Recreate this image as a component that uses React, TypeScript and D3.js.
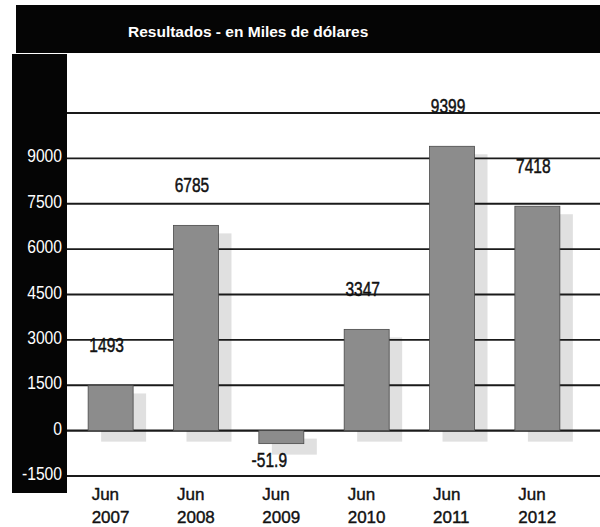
import React from 'react';
import * as d3 from 'd3';

const categories = ['2007', '2008', '2009', '2010', '2011', '2012'];
const monthLabels = ['Jun', 'Jun', 'Jun', 'Jun', 'Jun', 'Jun'];
const values = [1493, 6785, -51.9, 3347, 9399, 7418];
const valueLabels = ['1493', '6785', '-51.9', '3347', '9399', '7418'];
const gridValues = [-1500, 0, 1500, 3000, 4500, 6000, 7500, 9000, 10500];
const tickLabels = ['-1500', '0', '1500', '3000', '4500', '6000', '7500', '9000', ''];
const title = 'Resultados - en Miles de dólares';

const W = 600;
const H = 527;

export default function App() {
  const x = d3.scaleBand<string>().domain(categories).range([68, 580]).paddingInner(0.473).paddingOuter(0.236);
  const y = d3.scaleLinear().domain([-1500, 10500]).range([476, 113]);
  const y0 = y(0);
  const minBar = 13;
  const sans = "'Liberation Sans', Arial, sans-serif";

  const bars = values.map((v, i) => {
    const xb = x(categories[i]) as number;
    let top = Math.min(y(v), y0);
    let h = Math.abs(y(v) - y0);
    if (h < minBar) {
      h = minBar;
      top = v < 0 ? y0 : y0 - minBar;
    }
    return { xb, top, h, v, i };
  });

  return (
    <svg width={W} height={H} style={{ position: 'absolute', left: 0, top: 0, background: '#fff' }}>
      <rect x={0} y={0} width={W} height={H} fill="#fff" />
      {/* header */}
      <rect x={16} y={5} width={W - 16} height={48} fill="#050505" />
      <text x={128} y={37} fill="#fff" fontFamily={sans} fontWeight="bold" fontSize={15.5}>
        {title}
      </text>
      {/* axis column */}
      <rect x={12} y={54} width={55} height={439} fill="#050505" />
      {/* shadows */}
      {bars.map((b) => (
        <rect key={'s' + b.i} x={b.xb + 13} y={b.top + 8} width={x.bandwidth()} height={b.h + 3} fill="#e0e0e0" />
      ))}
      {/* gridlines */}
      {gridValues.map((g) => (
        <line key={'g' + g} x1={67} x2={W} y1={y(g)} y2={y(g)} stroke="#1a1a1a" strokeWidth={g === 0 ? 2.4 : 1.8} />
      ))}
      {/* tick labels */}
      {gridValues.map((g, i) => (
        <text
          key={'t' + g}
          transform={`translate(62,${y(g) + 4}) scale(0.87,1)`}
          fill="#fff"
          textAnchor="end"
          fontFamily={sans}
          fontSize={18}
        >
          {tickLabels[i]}
        </text>
      ))}
      {/* bars */}
      {bars.map((b) => (
        <rect key={'b' + b.i} x={b.xb} y={b.top} width={x.bandwidth()} height={b.h} fill="#8c8c8c" stroke="#4a4a4a" strokeWidth={0.8} />
      ))}
      {/* value labels */}
      {bars.map((b) => {
        const cx = b.xb + x.bandwidth() / 2 - 4 - (b.v < 0 ? 8 : 0);
        const ly = b.v < 0 ? b.top + b.h + 23 : b.top - 33;
        return (
          <text
            key={'v' + b.i}
            transform={`translate(${cx},${ly}) scale(0.74,1)`}
            textAnchor="middle"
            fill="#111"
            stroke="#111"
            strokeWidth={0.5}
            fontFamily={sans}
            fontSize={21}
          >
            {valueLabels[b.i]}
          </text>
        );
      })}
      {/* category labels */}
      {categories.map((c, i) => {
        const cx = (x(c) as number) + x.bandwidth() / 2;
        return (
          <g key={'c' + c} fill="#111" stroke="#111" strokeWidth={0.4} fontFamily={sans} fontSize={17}>
            <text x={cx - 19} y={500}>
              {monthLabels[i]}
            </text>
            <text x={cx - 19} y={523}>
              {c}
            </text>
          </g>
        );
      })}
    </svg>
  );
}
